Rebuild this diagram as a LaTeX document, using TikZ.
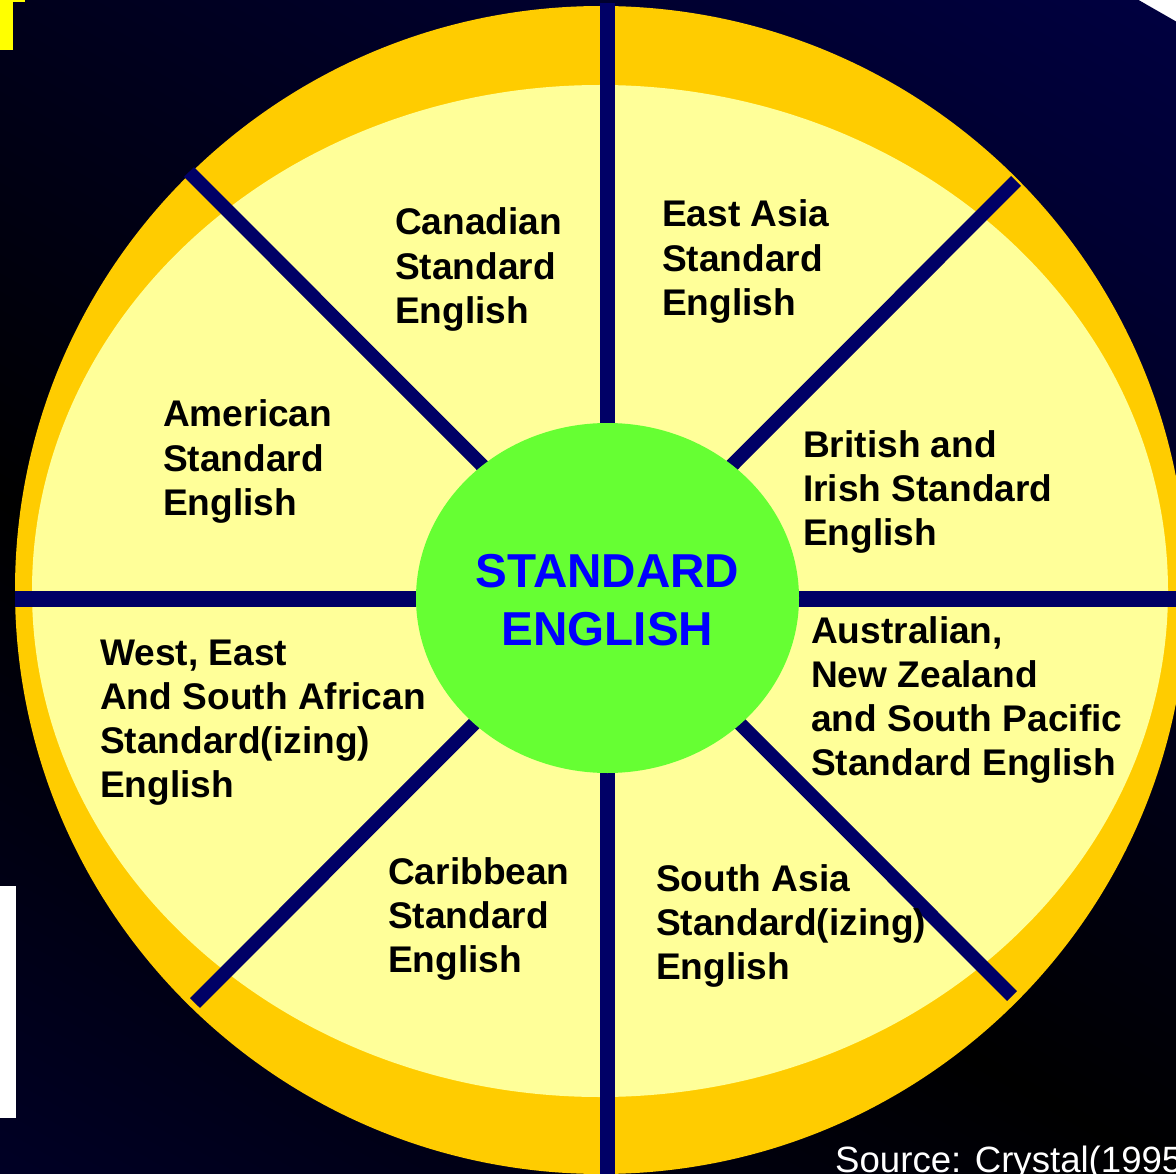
\documentclass[tikz,border=0pt]{standalone}
\usepackage{fontspec}
\setmainfont{Liberation Sans}
\definecolor{gold}{HTML}{FFCC00}
\definecolor{paleyellow}{HTML}{FFFF99}
\definecolor{spoke}{HTML}{000066}
\definecolor{hubgreen}{HTML}{66FF33}
\definecolor{hubblue}{HTML}{0000FF}
\definecolor{bgnavy}{HTML}{000066}
\definecolor{bgmid}{HTML}{00004C}
\definecolor{marky}{HTML}{FFFF00}
\pgfdeclareverticalshading{bgband}{100bp}{color(0bp)=(bgnavy); color(20bp)=(bgmid); color(50bp)=(black); color(80bp)=(bgmid); color(100bp)=(bgnavy)}
\newcommand{\lblstack}[1]{\begin{tabular}[t]{@{}l@{}}#1\end{tabular}}
\begin{document}
\begin{tikzpicture}[x=1pt,y=-1pt,
  spokeline/.style={draw=spoke, line width=15pt, line cap=butt},
  lbl/.style={anchor=base west, inner sep=0pt, font=\fontsize{37.1}{44.3}\selectfont\bfseries, text=black},
]
\useasboundingbox (0,0) rectangle (1176,1174);
\clip (0,0) rectangle (1176,1174);
% background
\begin{scope}[transform canvas={shift={(0,500)}, rotate=-29.82}]
  \shade[shading=bgband] (-1500,-1000) rectangle (2500,1000);
\end{scope}
% side marks
\fill[marky] (0,0) rectangle (13,50);
\fill[marky] (0,0) rectangle (25,2);
\fill[white] (0,886) rectangle (16,1118);
% wheel
\fill[gold] (601,590) ellipse [x radius=586pt, y radius=584pt];
\fill[paleyellow] (600,591) ellipse [x radius=568pt, y radius=506pt];
% spokes
\draw[spokeline] (607,3) -- (607,1180);
\draw[spokeline, line width=16pt] (15,598.5) -- (1180,598.5);
\draw[spokeline, line width=14pt] (189,172) -- (1012,996);
\draw[spokeline, line width=14pt] (1016,181) -- (195,1003);
% hub
\fill[hubgreen] (607.5,598) ellipse [x radius=191.5pt, y radius=175pt];
\node[anchor=base, inner sep=0pt, font=\fontsize{47.6}{58}\selectfont\bfseries, text=hubblue] (hub) at (607.5,587)
  {\begin{tabular}[t]{@{}c@{}}STANDARD\\ENGLISH\end{tabular}};
% labels
\node[lbl] (canadian) at (395,235) {\lblstack{Canadian\\Standard\\English}};
\node[lbl] (eastasia) at (662,227) {\lblstack{East Asia\\Standard\\English}};
\node[lbl] (american) at (163,427) {\lblstack{American\\Standard\\English}};
\node[lbl] (british) at (803,457) {\lblstack{British and\\Irish Standard\\English}};
\node[lbl] (australian) at (811,643) {\lblstack{Australian,\\New Zealand\\and South Pacific\\Standard English}};
\node[lbl] (african) at (100,665) {\lblstack{West, East\\And South African\\Standard(izing)\\English}};
\node[lbl] (caribbean) at (388,884) {\lblstack{Caribbean\\Standard\\English}};
\node[lbl] (southasia) at (656,891) {\lblstack{South Asia\\Standard(izing)\\English}};
% source
\node[anchor=base west, inner sep=0pt, font=\fontsize{36.6}{44}\selectfont, text=white] (source) at (835,1172) {Source: Crystal(1995};
\end{tikzpicture}
\end{document}
